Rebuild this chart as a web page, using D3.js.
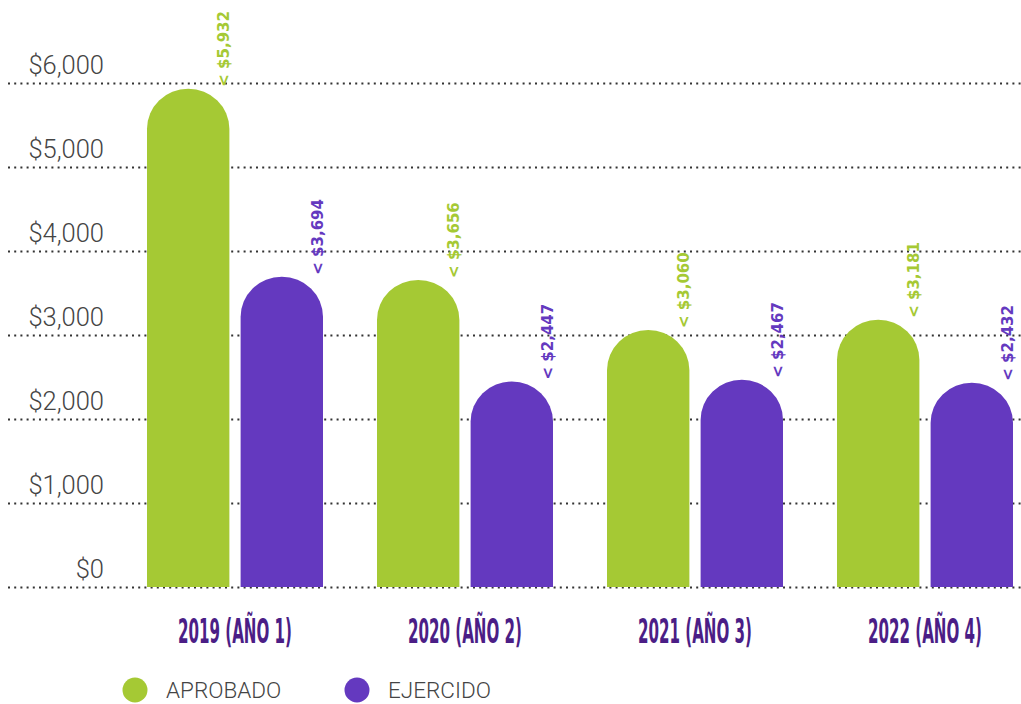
<!DOCTYPE html>
<html><head><meta charset="utf-8">
<script src="https://cdn.jsdelivr.net/npm/d3@7"></script>
<style>body{margin:0;background:#fff}svg{display:block}</style>
</head><body>
<svg id="c" width="1021" height="704"></svg>
<script>
const years = ["2019 (AÑO 1)", "2020 (AÑO 2)", "2021 (AÑO 3)", "2022 (AÑO 4)"];
const series = ["APROBADO", "EJERCIDO"];
const aprobado = [5932, 3656, 3060, 3181];
const ejercido = [3694, 2447, 2467, 2432];
const yTicks = [0, 1000, 2000, 3000, 4000, 5000, 6000];
const colors = {APROBADO: "#a5c934", EJERCIDO: "#6439bf"};

const svg = d3.select("#c");
const y = d3.scaleLinear().domain([0, 6000]).range([587, 83]);
const x0 = d3.scaleBand().domain(years).range([120, 1040]).padding(0);
const x1 = d3.scaleBand().domain(series).range([27, 203]).paddingInner(0.12);
const values = {APROBADO: aprobado, EJERCIDO: ejercido};
const fmt = d3.format(",");

// grid
svg.append("g").selectAll("line").data(yTicks).join("line")
  .attr("x1", 8).attr("x2", 1021)
  .attr("y1", d => Math.round(y(d)) + 0.5).attr("y2", d => Math.round(y(d)) + 0.5)
  .attr("stroke", "#333").attr("stroke-width", 2).attr("stroke-dasharray", "2,4.2");

svg.append("g").selectAll("text").data(yTicks).join("text")
  .attr("x", 104).attr("y", d => y(d) - 9)
  .attr("text-anchor", "end")
  .attr("font-family", "Roboto").attr("font-weight", 300).attr("font-size", 25.5)
  .attr("fill", "#444")
  .text(d => "$" + fmt(d));

// bars
const data = [];
years.forEach((yr, i) => series.forEach(s => data.push({yr, s, v: values[s][i]})));

function barPath(d) {
  const xl = x0(d.yr) + x1(d.s), w = x1.bandwidth();
  const top = y(d.v), bot = y(0);
  const rx = w / 2, ry = Math.min(40, bot - top);
  return `M${xl},${bot}L${xl},${top + ry}A${rx},${ry} 0 0 1 ${xl + w},${top + ry}L${xl + w},${bot}Z`;
}
svg.append("g").selectAll("path").data(data).join("path")
  .attr("d", barPath).attr("fill", d => colors[d.s]);

svg.append("g").selectAll("text").data(data).join("text")
  .attr("transform", d => `translate(${x0(d.yr) + x1(d.s) + x1.bandwidth() - 5},${y(d.v) - 2}) rotate(-90)`)
  .attr("dominant-baseline", "central")
  .attr("font-family", "DejaVu Sans").attr("font-weight", 700).attr("font-size", 15)
  .attr("fill", d => colors[d.s])
  .text(d => "< $" + fmt(d.v));

// x labels (condensed by horizontal scaling)
const xl = svg.append("g").selectAll("g").data(years).join("g")
  .attr("transform", d => `translate(${x0(d) + x0.bandwidth() / 2},643)`);
xl.append("text")
  .attr("text-anchor", "middle")
  .attr("font-family", "DejaVu Sans Condensed").attr("font-weight", 700).attr("font-size", 33)
  .attr("fill", "#4b1e86")
  .text(d => d)
  .each(function () {
    const len = this.getComputedTextLength();
    d3.select(this).attr("transform", `scale(${114 / len},1)`);
  });

// legend
const lg = svg.append("g").selectAll("g").data(series).join("g")
  .attr("transform", (d, i) => `translate(${135 + i * 222},690)`);
lg.append("circle").attr("r", 12.5).attr("fill", d => colors[d]);
lg.append("text").attr("x", 31).attr("y", 8)
  .attr("font-family", "Roboto").attr("font-weight", 300).attr("font-size", 22.5)
  .attr("fill", "#444").text(d => d);
</script>
</body></html>
